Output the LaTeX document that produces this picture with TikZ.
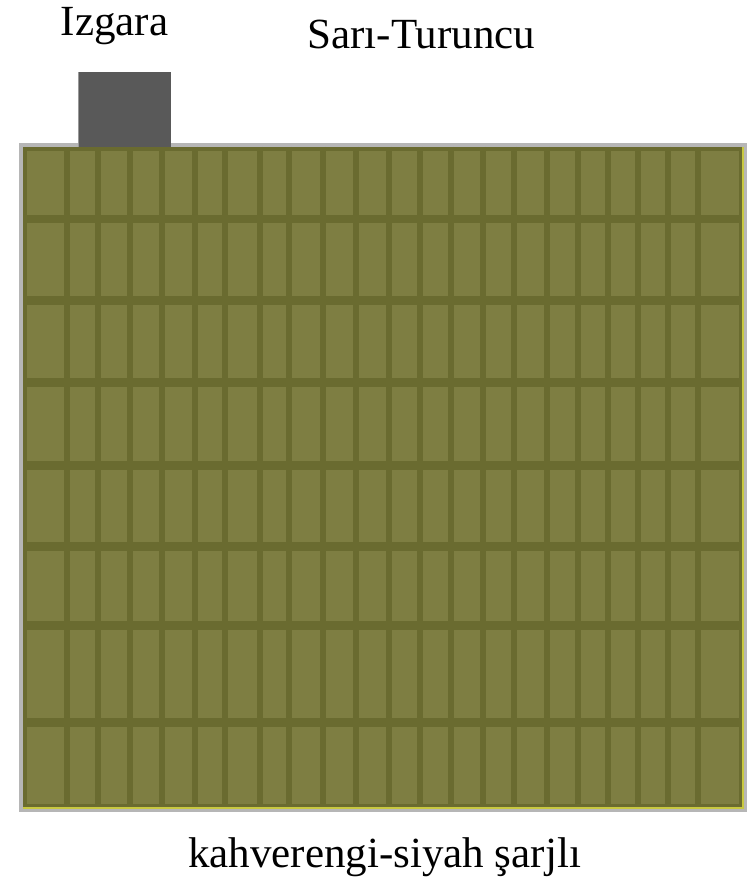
\documentclass[tikz,border=0pt]{standalone}
\usepackage{fontspec}
\setmainfont{Liberation Serif}
\definecolor{hucre}{RGB}{126,126,66}
\definecolor{cubuk}{RGB}{106,107,48}
\definecolor{cerceve}{RGB}{182,182,182}
\definecolor{kenar}{RGB}{200,200,64}
\definecolor{izgararenk}{RGB}{89,89,89}
\tikzset{
  etiket/.style={font=\fontsize{43}{49}\selectfont, anchor=base, inner sep=0pt},
  dikey/.style={cubuk, line width=6pt},
  yatay/.style={cubuk, line width=8.5pt},
}
\begin{document}
\begin{tikzpicture}[x=1pt, y=-1pt]
    \useasboundingbox (0,0) rectangle (747,882);

    % dis cerceve ve panel
    \fill[cerceve] (19,143) rectangle (747,812);
    \fill[hucre] (23,147) rectangle (743,808);

    \foreach \x in {66.5,98,130,162,195,225,260,289,322.5,355.5,389,419.5,451,483,514,547,578,607.5,637.5,667.5,697.5}
        \draw[dikey] (\x,147) -- (\x,808);
    \foreach \y in {219,300.5,382.5,465.5,546.5,625.5,722.5}
        \draw[yatay] (23,\y) -- (743,\y);

    \draw[cubuk, line width=4pt] (25,149) rectangle (741,806);
    \draw[kenar, line width=1.2pt] (23,808) -- (743,808) -- (743,147);

    % izgara parcasi
    \fill[izgararenk] (78,72) rectangle (171,147);
    \draw[gray!80, line width=1pt] (78.5,147) -- (78.5,72);

    \node[etiket] (izgara) at (114.5,36) {Izgara};
    \node[etiket] (renk) at (421.5,49) {Sarı-Turuncu};
    \node[etiket] (sarj) at (384.5,867) {kahverengi-siyah şarjlı};
\end{tikzpicture}
\end{document}
